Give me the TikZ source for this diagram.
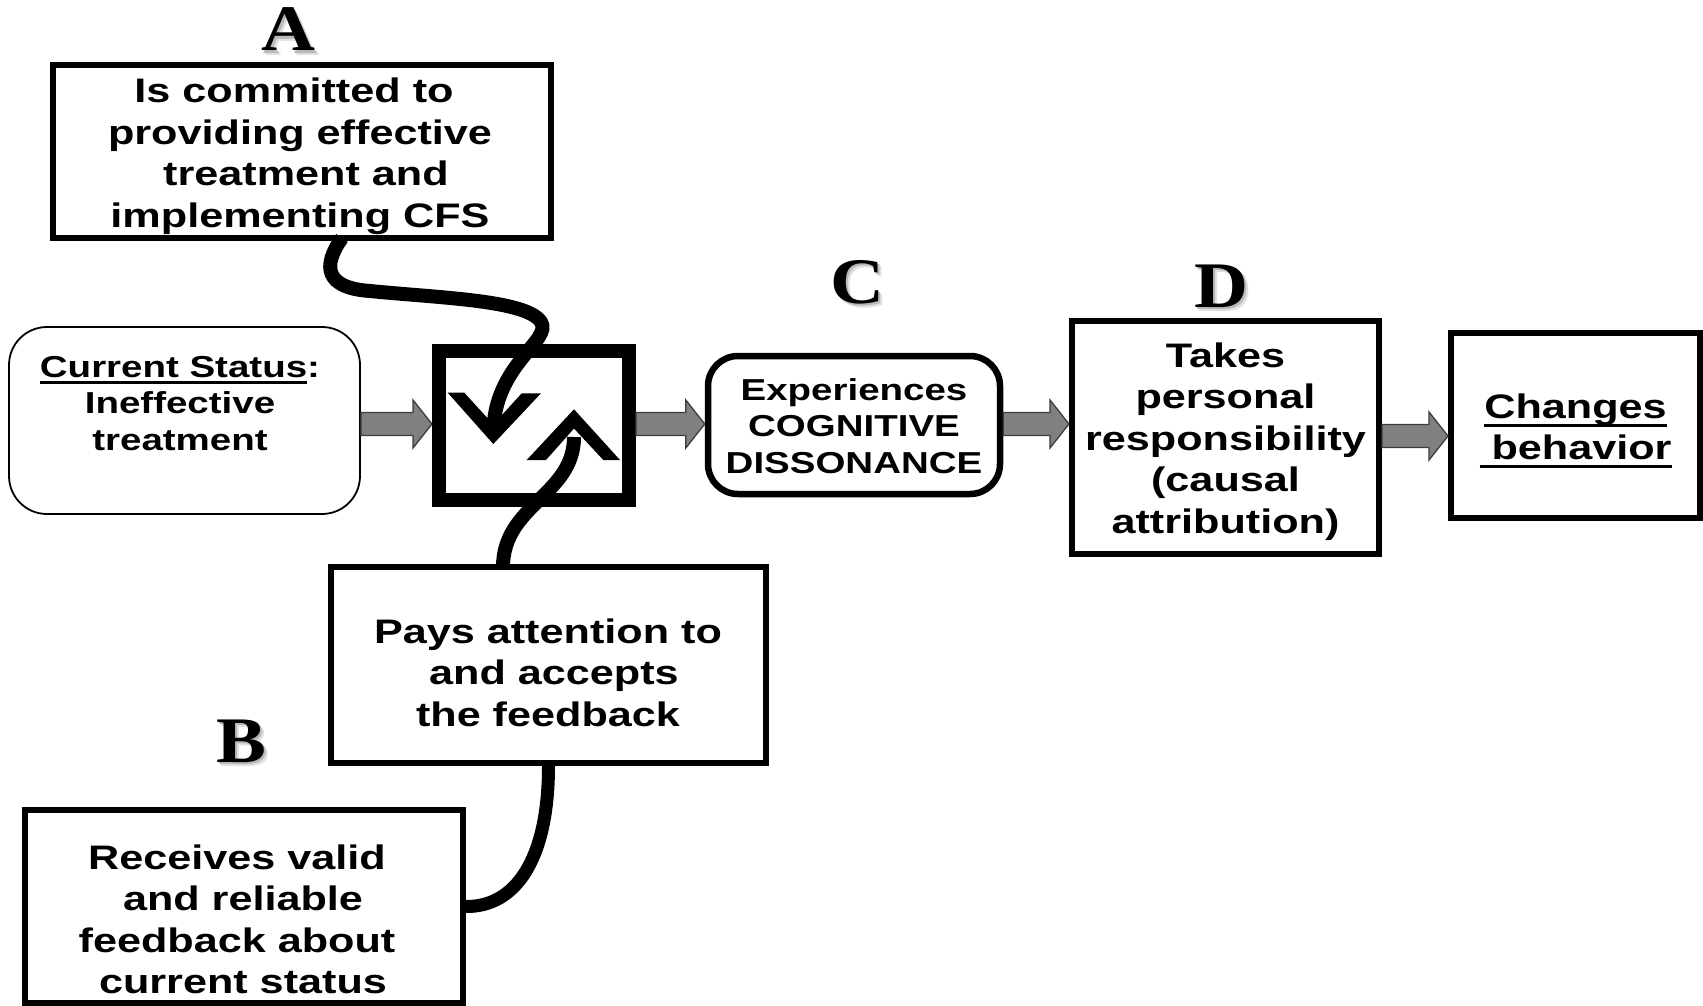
\documentclass[tikz,border=0pt]{standalone}
\usepackage{fontspec}
\usetikzlibrary{calc}

% Bold sans for the boxes, bold serif for the stage letters
\newfontfamily\boxfont{Liberation Sans}[FakeStretch=1.27]
\newfontfamily\tagfont{Liberation Serif}[FakeStretch=1.15]

\definecolor{arrowfill}{RGB}{128,128,128}
\definecolor{arrowline}{RGB}{60,60,60}

% underline drawn as a rule below the baseline
\newsavebox\ulinebox
\newcommand\ulbar[2][-8.5pt]{\sbox\ulinebox{#2}\rlap{\rule[#1]{\wd\ulinebox}{3pt}}\usebox\ulinebox}
% a space that survives at the start or end of a line
\newcommand\wsp{\hbox{\ }}
% centred lines whose baseline is the first line's
\newcommand\textstack[1]{\begin{tabular}[t]{@{}c@{}}#1\end{tabular}}
% letter with a soft drop shadow behind it
\newcommand\shadedletter[1]{%
  \rlap{\kern4.5pt\raisebox{-4.5pt}{\textcolor{black!12}{#1}}}%
  \rlap{\kern2.5pt\raisebox{-2.5pt}{\textcolor{black!28}{#1}}}#1}

% gray block arrow from the east side of one node to the west side of another
\newcommand\flowarrow[3]{%
  \path[flowshape] let \p1=(#1.east), \p2=(#2.west), \p3=(0,#3) in
    (\x1,\y3+11.5pt) -- (\x2-19pt,\y3+11.5pt) -- (\x2-19pt,\y3+24pt) -- (\x2,\y3)
    -- (\x2-19pt,\y3-24pt) -- (\x2-19pt,\y3-11.5pt) -- (\x1,\y3-11.5pt) -- cycle;}

\tikzset{
  panel/.style={draw, line width=6pt, inner sep=0pt},
  roundpanel/.style={panel, line width=6.5pt, rounded corners=30pt},
  statuspanel/.style={draw, line width=1.8pt, rounded corners=38pt, inner sep=0pt},
  hub/.style={draw, line width=14pt, inner sep=0pt},
  bigtext/.style={font=\boxfont\bfseries\fontsize{34}{41.5}\selectfont, anchor=base, inner sep=0pt},
  smalltext/.style={font=\boxfont\bfseries\fontsize{30.3}{36.7}\selectfont, anchor=base, inner sep=0pt},
  tag/.style={font=\tagfont\bfseries\fontsize{65}{65}\selectfont, anchor=base, inner sep=0pt},
  flowshape/.style={fill=arrowfill, draw=arrowline, line width=1.3pt},
  feedcurve/.style={line width=14pt},
  chevron/.style={fill=black},
}

\begin{document}
\begin{tikzpicture}[x=1pt, y=-1pt]
\fill[white] (0,0) rectangle (1703,1006);
\useasboundingbox (0,0) rectangle (1703,1006);

% ---- boxes ----
\node[panel, minimum width=498pt, minimum height=173pt] (commit) at (302,151.5) {};
\node[statuspanel, minimum width=351pt, minimum height=187pt] (status) at (184.5,420.5) {};
\node[hub, minimum width=190pt, minimum height=149pt] (hub) at (534,425.5) {};
\node[roundpanel, minimum width=292pt, minimum height=138pt] (dissonance) at (854,425) {};
\node[panel, minimum width=307pt, minimum height=233pt] (responsibility) at (1225.5,437.5) {};
\node[panel, minimum width=249pt, minimum height=185pt] (change) at (1575.5,425.5) {};
\node[panel, minimum width=435pt, minimum height=196pt] (attend) at (548.5,665) {};
\node[panel, minimum width=438pt, minimum height=193pt] (receive) at (244,906.5) {};

% ---- box texts ----
\node[bigtext] (commit-text) at (300,103)
  {\textstack{Is committed to\wsp\\providing effective\\\wsp treatment and\\implementing CFS}};
\node[smalltext] (status-text) at (180,377)
  {\textstack{\ulbar[-7pt]{Current Status}:\\Ineffective\\treatment}};
\node[smalltext] (dissonance-text) at (854,400)
  {\textstack{Experiences\\COGNITIVE\\DISSONANCE}};
\node[bigtext] (responsibility-text) at (1225.5,367)
  {\textstack{Takes\\personal\\responsibility\\(causal\\attribution)}};
\node[bigtext] (change-text) at (1575.5,418)
  {\textstack{\ulbar{Changes}\\\ulbar{\ behavior}}};
\node[bigtext] (attend-text) at (548,643)
  {\textstack{Pays attention to\\\wsp and accepts\\the feedback}};
\node[bigtext] (receive-text) at (237,869)
  {\textstack{Receives valid\\\wsp and reliable\\feedback about\\\wsp current status}};

% ---- stage letters ----
\node[tag] (tagA) at (288,51) {\shadedletter{A}};
\node[tag] (tagB) at (241,762) {\shadedletter{B}};
\node[tag] (tagC) at (857,303) {\shadedletter{C}};
\node[tag] (tagD) at (1221,307) {\shadedletter{D}};

% ---- block arrows ----
\flowarrow{status}{hub}{424}
\flowarrow{hub}{dissonance}{424}
\flowarrow{dissonance}{responsibility}{424}
\flowarrow{responsibility}{change}{436}

% ---- chevrons inside the hub ----
\fill[chevron] (447.7,392.7) -- (493.3,444) -- (541,393.3) -- (521.7,393.3)
  -- (493.3,424.5) -- (464.3,392.7) -- cycle;
\fill[chevron] (526.7,460) -- (574,409.3) -- (620,460) -- (603.3,460)
  -- (574,428.5) -- (546,460) -- cycle;
\coordinate (downtip) at (493.4,433);
\coordinate (uptip) at (574,437);

% ---- feedback curves ----
\draw[feedcurve] ([xshift=40pt,yshift=3pt]commit.south)
  .. controls (322,266) and (325,288) .. (370,291)
  .. controls (440,298) and (527,300) .. (541,322)
  .. controls (553,340) and (493.4,365) .. (downtip);
\draw[feedcurve] ([xshift=-45.5pt,yshift=-3pt]attend.north)
  .. controls (503,505) and (574,495) .. (uptip);
\draw[feedcurve, line width=13pt] (attend.south)
  .. controls (548.5,860) and (515,907) .. (receive.east);
\end{tikzpicture}
\end{document}
